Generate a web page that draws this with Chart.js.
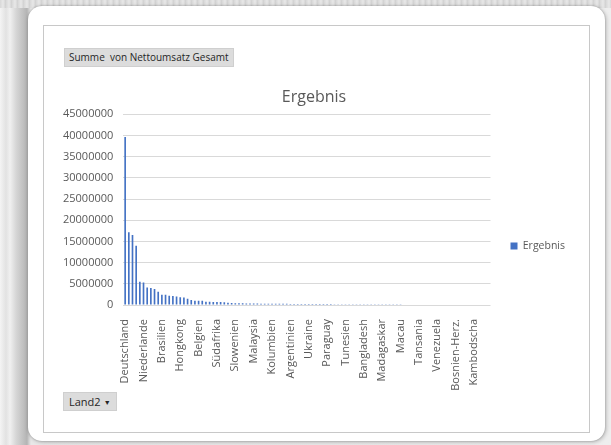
<!DOCTYPE html>
<html lang="de">
<head>
<meta charset="utf-8">
<title>Ergebnis</title>
<script src="https://cdn.jsdelivr.net/npm/chart.js@4/dist/chart.umd.min.js"></script>
<style>
  html, body { margin: 0; padding: 0; width: 611px; height: 445px; overflow: hidden; }
  body {
    position: relative;
    background:
      linear-gradient(90deg, #f4f4f4 0px, #e2e2e2 6px, #f0f0f0 10px, #d6d6d6 16px, #c4c4c4 22px, #b4b4b4 27px, #d0d0d0 29px, #e8e8e8 31px, #eeeeee 100%);
    font-family: "Open Sans", sans-serif;
  }
  .topband {
    position: absolute; left: 0; top: 0; width: 611px; height: 8px;
    background: repeating-linear-gradient(90deg, #d8d8d8 0px, #e8e8e8 3px, #cfcfcf 6px);
  }
  .sheet {
    position: absolute; left: 28px; top: 6px; width: 577px; height: 435px;
    background: #ffffff; border-radius: 14px;
    box-shadow: 0 0 2px rgba(0,0,0,0.25), 1px 1px 4px rgba(0,0,0,0.25);
  }
  .frame {
    position: absolute; left: 43px; top: 25px; width: 545px; height: 406px;
    border: 1px solid #c8c8c8; background: #ffffff;
  }
  #wrap { position: absolute; left: 44px; top: 26px; width: 545px; height: 406px; }
  .btn {
    position: absolute; background: #dcdcdc; color: #262626;
    border: 1px solid #cfcfcf; box-sizing: border-box; white-space: nowrap;
  }
  .btn-value {
    left: 64px; top: 48px; height: 19px; padding: 0 4px;
    font-size: 10px; line-height: 17px; letter-spacing: 0px;
  }
  .btn-field {
    left: 63px; top: 392px; height: 19px; padding: 0 5px;
    font-size: 11px; line-height: 17px;
  }
  .btn-field span { font-size: 7px; margin-left: 3px; vertical-align: 1px; }
</style>
</head>
<body>
<div class="topband"></div>
<div class="sheet"></div>
<div class="frame"></div>
<div id="wrap"><canvas id="chart"></canvas></div>
<div class="btn btn-value">Summe&nbsp; von Nettoumsatz Gesamt</div>
<div class="btn btn-field">Land2<span>&#9660;</span></div>
<script>
// Net revenue per country (Land2), sorted descending
const countries = [
  "Deutschland", "Österreich", "Schweiz", "Frankreich", "USA",
  "Niederlande", "Italien", "Großbritannien", "Spanien", "China",
  "Brasilien", "Polen", "Japan", "Russland", "Schweden",
  "Hongkong", "Dänemark", "Kanada", "Australien", "Tschechien",
  "Belgien", "Norwegen", "Finnland", "Mexiko", "Indien",
  "Südafrika", "Türkei", "Ungarn", "Portugal", "Griechenland",
  "Slowenien", "Irland", "Südkorea", "Singapur", "Taiwan",
  "Malaysia", "Chile", "Israel", "Rumänien", "Kroatien",
  "Kolumbien", "Slowakei", "Thailand", "Luxemburg", "Bulgarien",
  "Argentinien", "Peru", "Ägypten", "Neuseeland", "Indonesien",
  "Ukraine", "Serbien", "Estland", "Litauen", "Lettland",
  "Paraguay", "Marokko", "Vietnam", "Philippinen", "Uruguay",
  "Tunesien", "Ecuador", "Zypern", "Island", "Pakistan",
  "Bangladesh", "Kenia", "Nigeria", "Malta", "Jordanien",
  "Madagaskar", "Sri Lanka", "Ghana", "Bolivien", "Costa Rica",
  "Macau", "Panama", "Libanon", "Katar", "Oman",
  "Tansania", "Algerien", "Kuwait", "Belarus", "Georgien",
  "Venezuela", "Albanien", "Armenien", "Mauritius", "Nepal",
  "Bosnien-Herz.", "Guatemala", "Moldau", "Mongolei", "Äthiopien",
  "Kambodscha", "Namibia", "Uganda", "Sambia", "Laos"
];

const netSales = [
  39600000, 17150000, 16500000, 14000000, 5500000,
  5300000, 4100000, 4000000, 3800000, 3100000,
  2400000, 2400000, 2200000, 2150000, 2000000,
  1850000, 1750000, 1450000, 1150000, 1000000,
  1000000, 980000, 780000, 750000, 720000,
  700000, 680000, 620000, 550000, 500000,
  420000, 400000, 385000, 360000, 350000,
  345000, 330000, 318000, 310000, 300000,
  296000, 290000, 281000, 276000, 270000,
  262000, 259000, 250000, 246000, 241000,
  236000, 231000, 226000, 223000, 218000,
  214000, 209000, 206000, 202000, 198000,
  195000, 191000, 188000, 186000, 182000,
  178000, 176000, 172000, 169000, 166000,
  163000, 161000, 158000, 154000, 152000,
  150000, 147000, 145000, 143000, 140000,
  138000, 135000, 133000, 131000, 128000,
  126000, 124000, 122000, 120000, 118000,
  116000, 114000, 112000, 110000, 108000,
  106000, 104000, 102000, 100000, 98000
];

const seriesName = "Ergebnis";
const yTicks = [0, 5000000, 10000000, 15000000, 20000000, 25000000, 30000000, 35000000, 40000000, 45000000];
const labelEvery = 5;

const textGrey = "#595959";
const font = "'Open Sans', sans-serif";

new Chart(document.getElementById("chart"), {
  type: "bar",
  data: {
    labels: countries,
    datasets: [{
      label: seriesName,
      data: netSales,
      backgroundColor: "#4472C4",
      borderWidth: 0,
      barPercentage: 0.45,
      categoryPercentage: 1.0
    }]
  },
  options: {
    responsive: true,
    maintainAspectRatio: false,
    animation: false,
    devicePixelRatio: 1,
    layout: { padding: { top: 34, left: 9, right: 14, bottom: 0 } },
    plugins: {
      title: {
        display: true,
        text: seriesName,
        color: textGrey,
        font: { family: font, size: 16, weight: "normal" },
        padding: { top: 28, bottom: 7 }
      },
      legend: {
        display: true,
        position: "right",
        align: "center",
        labels: {
          color: textGrey,
          font: { family: font, size: 10.5 },
          boxWidth: 7,
          boxHeight: 7,
          padding: 20
        }
      },
      tooltip: { enabled: false }
    },
    scales: {
      x: {
        grid: { display: false },
        border: { display: false },
        // the category axis keeps the space down to the frame for the field button
        afterFit: (scale) => { scale.height = 127; },
        ticks: {
          autoSkip: false,
          minRotation: 90,
          maxRotation: 90,
          padding: 6,
          color: textGrey,
          font: { family: font, size: 11 },
          callback: (value, index) => (index % labelEvery === 0 ? countries[index] : "")
        }
      },
      y: {
        min: yTicks[0],
        max: yTicks[yTicks.length - 1],
        afterBuildTicks: (scale) => { scale.ticks = yTicks.map((v) => ({ value: v })); },
        grid: { color: "#d9d9d9", lineWidth: 1, drawTicks: false },
        border: { display: false },
        ticks: {
          padding: 10,
          color: textGrey,
          font: { family: font, size: 11 },
          callback: (value) => String(value)
        }
      }
    }
  }
});
</script>
</body>
</html>
